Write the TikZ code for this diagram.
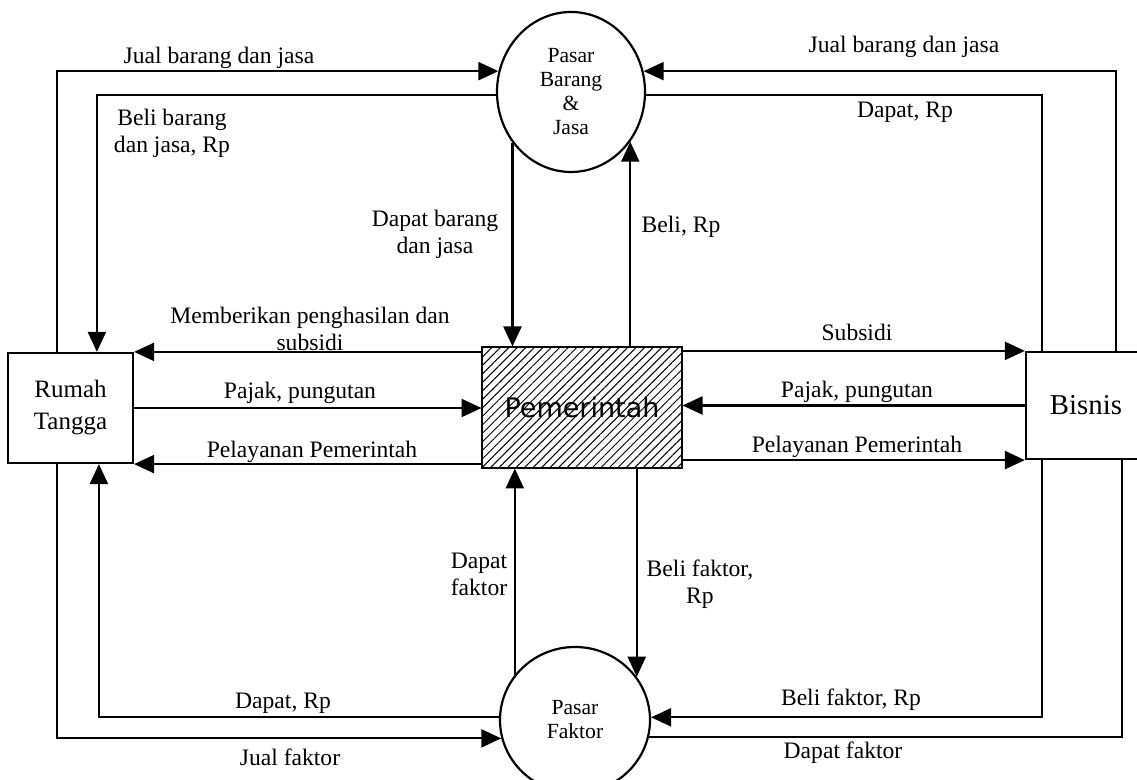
\documentclass[tikz,border=0pt]{standalone}
\usepackage{fontspec}
\setmainfont{Liberation Serif}
\newfontfamily\govfont{DejaVu Sans}
\usetikzlibrary{arrows.meta,calc,shapes.geometric,patterns.meta}

\begin{document}
\begin{tikzpicture}[
  x=0.5pt, y=0.5pt,
  >={Triangle[length=10pt,width=9pt]},
  line width=1.1pt,
  actor/.style  ={draw,rectangle,inner sep=0pt,align=center},
  market/.style ={draw,ellipse,inner sep=0pt,align=center,
                  font=\fontsize{10.8}{12}\selectfont},
  govbox/.style ={draw,rectangle,inner sep=0pt,minimum width=100pt,
                  minimum height=60.5pt,
                  pattern={Lines[angle=45,distance=3pt,line width=0.5pt]},
                  font=\govfont\fontsize{13.5}{15}\selectfont},
  flow/.style   ={font=\fontsize{11.8}{13.5}\selectfont,align=center,
                  inner sep=0pt},
]

\useasboundingbox (0,0) rectangle (1137,780);
\clip (0,0) rectangle (1137,780);

%% ============================================================
%%  Actors and markets
%% ============================================================
\node[actor,minimum width=62.5pt,minimum height=55pt,
      font=\fontsize{12.5}{16}\selectfont] (rt) at (70.5,372) {Rumah\\Tangga};
\node[actor,minimum width=60pt,minimum height=53.5pt,
      font=\fontsize{14.4}{16}\selectfont] (bis) at (1086,374.5) {Bisnis};
\node[govbox] (gov) at (582,372.5) {Pemerintah};

\node[market,minimum width=74pt,minimum height=80pt] (pbj) at (571,688)
      {Pasar\\Barang\\\&\\Jasa};
\node[market,minimum width=75pt,minimum height=73pt] (pf) at (575,60)
      {Pasar\\Faktor};

%% ============================================================
%%  Goods market loop
%% ============================================================
\draw[->] ($(rt.north west)+(50,0)$) |- (pbj.164);
\draw[->] (pbj.182) -| ($(rt.north west)+(90,0)$);
\draw[->] ($(bis.north west)+(91,0)$) |- (pbj.16);
\draw     (pbj.358) -| ($(bis.north west)+(17,0)$);

\draw[->] (pbj.221) -- (pbj.221 |- gov.north);
\draw[->] (pbj.320 |- gov.north) -- (pbj.320);

%% ============================================================
%%  Government flows
%% ============================================================
\draw[->] (gov.west |- rt.north east) -- (rt.north east);
\draw[->] (rt.east) -- (gov.west |- rt.east);
\draw[->] (gov.west |- rt.south east) -- (rt.south east);

\draw[->] (gov.east |- bis.north west) -- (bis.north west);
\draw[->] (bis.west) -- (gov.east |- bis.west);
\draw[->] (gov.east |- bis.south west) -- (bis.south west);

%% ============================================================
%%  Factor market loop
%% ============================================================
\draw[->] (pf.143) -- (pf.143 |- gov.south);
\draw[->] (pf.35 |- gov.south) -- (pf.35);

\draw[->] (pf.178) -| ($(rt.south west)+(92,0)$);
\draw[->] ($(rt.south west)+(50,0)$) |- (pf.194);
\draw[->] ($(bis.south west)+(17,0)$) |- (pf.2);
\draw     (pf.347) -| ($(bis.south west)+(97,0)$);

%% ============================================================
%%  Labels
%% ============================================================
\node[flow] (jualbjL)  at (219,722) {Jual barang dan jasa};
\node[flow] (belibj)   at (172,647) {Beli barang\\dan jasa, Rp};
\node[flow] (jualbjR)  at (904,733) {Jual barang dan jasa};
\node[flow] (dapatrpT) at (905,668) {Dapat, Rp};
\node[flow] (dapatbj)  at (435,546) {Dapat barang\\dan jasa};
\node[flow] (belirp)   at (681,553) {Beli, Rp};

\node[flow] (beriL)    at (310,451) {Memberikan penghasilan dan\\subsidi};
\node[flow] (pajakL)   at (300,387) {Pajak, pungutan};
\node[flow] (layanL)   at (312,328) {Pelayanan Pemerintah};
\node[flow] (subsidiR) at (857,448) {Subsidi};
\node[flow] (pajakR)   at (857,388) {Pajak, pungutan};
\node[flow] (layanR)   at (857,333) {Pelayanan Pemerintah};

\node[flow] (dapatfG)  at (479,206) {Dapat\\faktor};
\node[flow] (belifG)   at (700,196) {Beli faktor,\\Rp};
\node[flow] (dapatrpB) at (283,77)  {Dapat, Rp};
\node[flow] (jualf)    at (290,23)  {Jual faktor};
\node[flow] (belifR)   at (851,80)  {Beli faktor, Rp};
\node[flow] (dapatfR)  at (843,27)  {Dapat faktor};

\end{tikzpicture}
\end{document}
